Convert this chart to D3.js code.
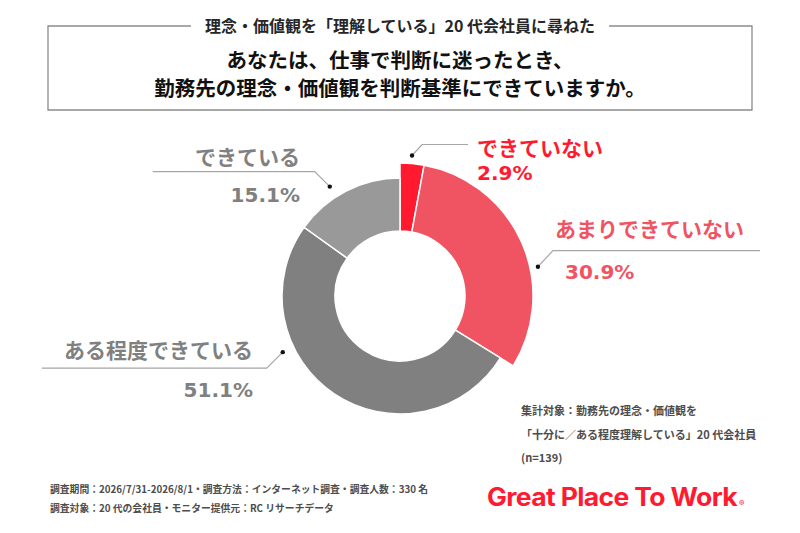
<!DOCTYPE html>
<html>
<head>
<meta charset="utf-8">
<script src="https://cdn.jsdelivr.net/npm/d3@7"></script>
<style>
  body { margin: 0; background: #fff; }
  svg { display: block; }
</style>
</head>
<body>
<svg id="chart" width="800" height="533"></svg>
<script>
// ---------------------------------------------------------------------------
// Data

const categories = ["できていない", "あまりできていない", "ある程度できている", "できている"];
const values     = [2.9, 30.9, 51.1, 15.1];
const sliceColors = ["#ff1a2f", "#f05462", "#808080", "#999999"];
const highlighted = [true, true, false, false];   // red slices stick out further

const subtitle = "理念・価値観を「理解している」20 代会社員に尋ねた";
const titleLines = ["あなたは、仕事で判断に迷ったとき、", "勤務先の理念・価値観を判断基準にできていますか。"];
const noteLines = ["集計対象：勤務先の理念・価値観を", "「十分に／ある程度理解している」20 代会社員", "(n=139)"];
const footLines = ["調査期間：2026/7/31-2026/8/1・調査方法：インターネット調査・調査人数：330 名",
                   "調査対象：20 代の会社員・モニター提供元：RC リサーチデータ"];

// Label layout (per slice, same order as categories)
//  dotAngle: where the leader dot sits (deg, clockwise from 12 o'clock)
//  elbow / end: leader line points relative to dot
//  tx, anchor: text position; nameY / pctY: baselines
const labelLayout = [
  { dotAngle: 4.9,   gap: 8,  elbow: [10, -11],  end: 46,   tx: 477, anchor: "start", nameY: 156, pctY: 180 },
  { dotAngle: 78,    gap: 8,  elbow: [15, -16],  end: 207,  tx: 555, anchor: "start", nameY: 237, pctY: 279, pctX: 565 },
  { dotAngle: 244.4, gap: 12, elbow: [-16, 16],  end: -225, tx: 253, anchor: "end",   nameY: 358, pctY: 397 },
  { dotAngle: 327.3, gap: 12, elbow: [-15, -15], end: -162, tx: 300, anchor: "end",   nameY: 165, pctY: 202 }
];

// ---------------------------------------------------------------------------

const svg = d3.select("#chart");
const cx = 400, cy = 296;
const innerR = 65, outerR = 118, outerRHi = 133;
const jpFont = "'Noto Sans CJK JP', 'Noto Sans', sans-serif";
const numFont = "'DejaVu Sans', 'Noto Sans CJK JP', sans-serif";

// Header box with a gap for the subtitle
const box = { x0: 48, x1: 752, y0: 26, y1: 110 };
const sub = svg.append("text")
  .attr("x", 400).attr("y", 32)
  .attr("text-anchor", "middle")
  .attr("font-family", jpFont).attr("font-weight", 700)
  .attr("font-size", 16).attr("fill", "#262626")
  .text(subtitle);
const sw = sub.node().getComputedTextLength();
const gapL = 400 - sw / 2 - 14, gapR = 400 + sw / 2 + 14;

svg.append("path")
  .attr("d", `M${gapL},${box.y0}H${box.x0}V${box.y1}H${box.x1}V${box.y0}H${gapR}`)
  .attr("fill", "none").attr("stroke", "#8c8c8c").attr("stroke-width", 1.3);

svg.selectAll(".title")
  .data(titleLines)
  .enter().append("text")
  .attr("class", "title")
  .attr("x", 400).attr("y", (d, i) => 68 + i * 28)
  .attr("text-anchor", "middle")
  .attr("font-family", jpFont).attr("font-weight", 700)
  .attr("font-size", 20.5).attr("fill", "#111")
  .text(d => d);

// Donut
const pieData = d3.pie().sort(null).value(d => d)(values);
const arc = d3.arc()
  .innerRadius(innerR)
  .outerRadius(d => highlighted[d.index] ? outerRHi : outerR);

const g = svg.append("g").attr("transform", `translate(${cx},${cy})`);

g.selectAll("path.slice")
  .data(pieData)
  .enter().append("path")
  .attr("class", "slice")
  .attr("d", arc)
  .attr("fill", d => sliceColors[d.index])
  .attr("stroke", "#fff")
  .attr("stroke-width", 1.5);

// Leader lines + labels
const labelColors = ["#ff1a2f", "#f05462", "#808080", "#808080"];

pieData.forEach(d => {
  const L = labelLayout[d.index];
  const r = (highlighted[d.index] ? outerRHi : outerR) + L.gap;
  const a = L.dotAngle * Math.PI / 180;
  const dx = cx + r * Math.sin(a), dy = cy - r * Math.cos(a);
  const ex = dx + L.elbow[0], ey = dy + L.elbow[1];

  svg.append("path")
    .attr("d", `M${dx},${dy}L${ex},${ey}H${ex + L.end}`)
    .attr("fill", "none").attr("stroke", "#a6a6a6").attr("stroke-width", 1.2);
  svg.append("circle")
    .attr("cx", dx).attr("cy", dy).attr("r", 2.2).attr("fill", "#111");

  svg.append("text")
    .attr("x", L.tx).attr("y", L.nameY)
    .attr("text-anchor", L.anchor)
    .attr("font-family", jpFont).attr("font-weight", 700)
    .attr("font-size", 21).attr("fill", labelColors[d.index])
    .text(categories[d.index]);

  svg.append("text")
    .attr("x", L.pctX || L.tx).attr("y", L.pctY)
    .attr("text-anchor", L.anchor)
    .attr("font-family", numFont).attr("font-weight", 700)
    .attr("font-size", 20).attr("fill", labelColors[d.index])
    .text(d3.format(".1f")(d.data) + "%");
});

// Note (right) and footer (left)
svg.selectAll(".note")
  .data(noteLines)
  .enter().append("text")
  .attr("class", "note")
  .attr("x", 521).attr("y", (d, i) => 415 + i * 23.5)
  .attr("font-family", jpFont).attr("font-weight", 700)
  .attr("font-size", 11).attr("fill", "#4d4d4d")
  .text(d => d);

svg.selectAll(".foot")
  .data(footLines)
  .enter().append("text")
  .attr("class", "foot")
  .attr("x", 50).attr("y", (d, i) => 493 + i * 18.5)
  .attr("font-family", jpFont).attr("font-weight", 700)
  .attr("font-size", 9.8).attr("fill", "#4d4d4d")
  .text(d => d);

// Logo
svg.append("text")
  .attr("x", 487).attr("y", 506)
  .attr("font-family", "Inter, 'Open Sans', sans-serif").attr("font-weight", 700)
  .attr("font-size", 25).attr("fill", "#ff1a2f")
  .attr("letter-spacing", -0.6)
  .attr("textLength", 250).attr("lengthAdjust", "spacingAndGlyphs")
  .text("Great Place To Work");
svg.append("text")
  .attr("x", 739).attr("y", 506)
  .attr("font-family", "Inter, sans-serif").attr("font-weight", 600)
  .attr("font-size", 8).attr("fill", "#ff1a2f")
  .text("®");
</script>
</body>
</html>
